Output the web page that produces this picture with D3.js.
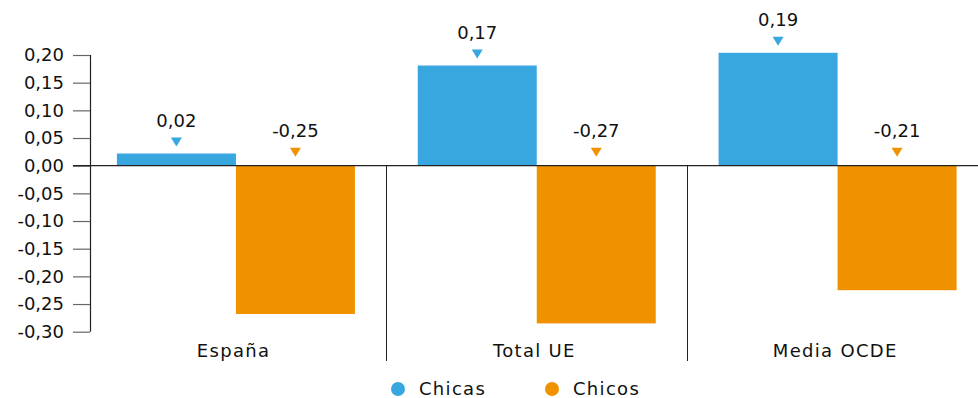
<!DOCTYPE html>
<html>
<head>
<meta charset="utf-8">
<script src="https://cdn.jsdelivr.net/npm/d3@7"></script>
<style>
  html, body { margin: 0; padding: 0; background: #fff; }
  svg text { font-family: "DejaVu Sans", sans-serif; fill: #111; }
</style>
</head>
<body>
<svg id="chart" width="978" height="398"></svg>
<script>
// ---- data ----
const categories = ["España", "Total UE", "Media OCDE"];
const seriesNames = ["Chicas", "Chicos"];
const chicasValues = [0.022, 0.181, 0.204];
const chicosValues = [-0.268, -0.285, -0.225];
const chicasLabels = ["0,02", "0,17", "0,19"];
const chicosLabels = ["-0,25", "-0,27", "-0,21"];
const yTicks = [0.20, 0.15, 0.10, 0.05, 0.00, -0.05, -0.10, -0.15, -0.20, -0.25, -0.30];
const colors = ["#38a7df", "#f09200"];

// ---- layout ----
const svg = d3.select("#chart");
const W = 978;
const y = d3.scaleLinear().domain([-0.30, 0.20]).range([331.7, 55]);
const x = d3.scaleBand().domain(categories).range([85.5, 988]).padding(0);
const inner = d3.scaleBand().domain(seriesNames)
  .range([31.4, x.bandwidth() - 31.4]).padding(0);
const axisX = 90;
const numSize = "18px";
const wordSize = "18px";
const wordSpacing = 1.3;

const fmt = v => d3.format(".2f")(v).replace(".", ",").replace("−", "-");

// bars
const seriesData = [chicasValues, chicosValues];
const labelsData = [chicasLabels, chicosLabels];
seriesNames.forEach((s, si) => {
  const g = svg.append("g");
  g.selectAll("rect").data(categories).join("rect")
    .attr("x", c => x(c) + inner(s))
    .attr("width", inner.bandwidth())
    .attr("y", (c, i) => y(Math.max(0, seriesData[si][i])))
    .attr("height", (c, i) => Math.abs(y(seriesData[si][i]) - y(0)))
    .attr("fill", colors[si]);
});

// y axis
const yAxis = d3.axisLeft(y).tickValues(yTicks).tickFormat(fmt).tickSize(17).tickPadding(9);
const ga = svg.append("g").attr("transform", `translate(${axisX},0)`).call(yAxis);
ga.select(".domain").attr("stroke", "#222").attr("stroke-width", 1.2)
  .attr("d", `M0.5,${y(0.20)}V${y(-0.30)}`);
ga.selectAll(".tick line").attr("stroke", "#666").attr("stroke-width", 1.2);
ga.selectAll(".tick text").style("font-family", '"DejaVu Sans", sans-serif')
  .style("font-size", numSize).attr("fill", "#111");

// zero line
svg.append("line")
  .attr("x1", 73).attr("x2", W)
  .attr("y1", y(0)).attr("y2", y(0))
  .attr("stroke", "#222").attr("stroke-width", 1.2);

// category dividers
categories.slice(1).forEach(c => {
  svg.append("line")
    .attr("x1", Math.round(x(c)) + 0.5).attr("x2", Math.round(x(c)) + 0.5)
    .attr("y1", y(0)).attr("y2", 361)
    .attr("stroke", "#222").attr("stroke-width", 1);
});

// category labels
svg.append("g").selectAll("text").data(categories).join("text")
  .attr("x", c => x(c) + x.bandwidth() / 2 - 3 + wordSpacing / 2)
  .attr("y", 357)
  .attr("text-anchor", "middle")
  .style("font-size", wordSize)
  .style("letter-spacing", wordSpacing + "px")
  .text(c => c);

// markers + labels
seriesNames.forEach((s, si) => {
  categories.forEach((c, i) => {
    const cx = x(c) + inner(s) + inner.bandwidth() / 2;
    const top = y(Math.max(0, seriesData[si][i]));
    const tb = top - (si === 0 ? 7 : 9);
    svg.append("path")
      .attr("d", `M${cx - 5.5},${tb - 9}L${cx + 5.5},${tb - 9}L${cx},${tb}Z`)
      .attr("fill", colors[si]);
    svg.append("text")
      .attr("x", cx)
      .attr("y", tb - 20)
      .attr("text-anchor", "middle")
      .style("font-size", numSize)
      .text(labelsData[si][i]);
  });
});

// legend
const legendX = [398, 552];
seriesNames.forEach((s, si) => {
  svg.append("circle").attr("cx", legendX[si]).attr("cy", 389).attr("r", 7)
    .attr("fill", colors[si]);
  svg.append("text").attr("x", legendX[si] + 21).attr("y", 395)
    .style("font-size", wordSize)
    .style("letter-spacing", wordSpacing + "px")
    .text(s);
});
</script>
</body>
</html>
